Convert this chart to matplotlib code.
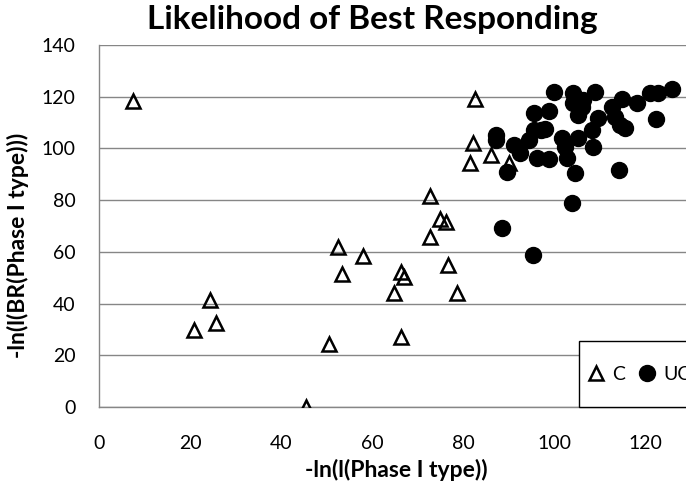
import matplotlib
matplotlib.use("Agg")
import matplotlib.pyplot as plt
from matplotlib.patches import Rectangle

# C (triangles)
c_x = [7.4, 20.9, 24.5, 25.7, 45.5, 50.5, 52.5, 53.3, 58.0, 64.8, 66.3, 67.0,
       66.4, 72.7, 72.7, 74.9, 76.3, 76.7, 78.6, 81.5, 82.3, 82.6, 86.2, 90.2]
c_y = [118.2, 29.8, 41.4, 32.5, 0.0, 24.4, 62.0, 51.4, 58.4, 44.2, 52.1, 50.4,
       27.2, 81.6, 65.9, 72.6, 71.7, 54.9, 44.0, 94.2, 102.0, 119.0, 97.4, 94.2]

# UC (filled circles)
uc_x = [99.9, 104.1, 104.2, 106.4, 106.2, 105.3, 109.0, 109.7, 108.3, 108.6,
        114.9, 112.7, 118.2, 113.4, 114.5, 115.6, 121.1, 122.9, 125.9, 122.5,
        114.3, 104.6, 103.9, 95.5, 98.8, 87.3, 87.3, 91.2, 92.5, 94.4,
        97.1, 96.3, 98.8, 101.7, 102.4, 102.8, 105.3, 89.6, 88.5, 95.3,
        95.5, 98.0]
uc_y = [121.9, 121.3, 117.4, 118.7, 116.1, 112.9, 121.9, 111.6, 107.1, 100.7,
        119.3, 116.1, 117.4, 112.0, 108.9, 107.8, 121.3, 121.3, 123.0, 111.2,
        91.6, 90.4, 78.8, 113.8, 114.6, 105.2, 103.2, 101.3, 98.1, 103.2,
        107.1, 96.2, 95.8, 103.9, 100.7, 96.2, 103.9, 91.0, 69.1, 58.8,
        107.0, 107.5]

plt.rcParams['font.family'] = ['Lato', 'DejaVu Sans']

fig = plt.figure(figsize=(6.86, 4.91), dpi=100)
ax = fig.add_axes([99 / 686, 84 / 491, 1 - 99 / 686, 362 / 491])

ax.plot(c_x, c_y, linestyle='none', marker='^', ms=10.5, mew=1.8,
        mfc='none', mec='black', label='C', zorder=3)
ax.plot(uc_x, uc_y, linestyle='none', marker='o', ms=11.5,
        mfc='black', mec='black', label='UC', zorder=4)

ax.set_xlim(0, 129)
ax.set_ylim(0, 140)
ax.set_xticks(range(0, 121, 20))
ax.set_yticks(range(0, 141, 20))
ax.tick_params(length=0, labelsize=14)
ax.tick_params(axis='y', pad=17)
ax.tick_params(axis='x', pad=20)
ax.yaxis.grid(True, color='#868686', linewidth=1)
ax.set_axisbelow(True)
for s in ['top', 'right']:
    ax.spines[s].set_visible(False)
for s in ['left', 'bottom']:
    ax.spines[s].set_color('#868686')
    ax.spines[s].set_linewidth(1)

fig.text(396 / 686, 1 - 470 / 491, '-ln(l(Phase I type))',
         fontsize=16.5, fontweight='bold', ha='center', va='center')
fig.text(18 / 686, 1 - 245 / 491, '-ln(l(BR(Phase I type)))', rotation=90,
         fontsize=16.5, fontweight='bold', ha='center', va='center')
fig.text(372 / 686, 1 - 20 / 491, 'Likelihood of Best Responding',
         fontsize=24, fontweight='bold', ha='center', va='center')

# legend box runs past the right edge, as in the reference
box_x = (579 - 99) / 587
box_h = 66 / 362
ax.add_patch(Rectangle((box_x, 0), 0.5, box_h, transform=ax.transAxes,
                       facecolor='white', edgecolor='black', linewidth=1,
                       zorder=5, clip_on=False))
leg = ax.legend(loc='center left', bbox_to_anchor=((589 - 99) / 587, box_h / 2),
                ncol=2, borderaxespad=0, frameon=False, fontsize=14,
                handlelength=0.7, handletextpad=0.5, columnspacing=0.75,
                borderpad=0)
leg.set_zorder(6)

fig.savefig('out.png', dpi=100)
